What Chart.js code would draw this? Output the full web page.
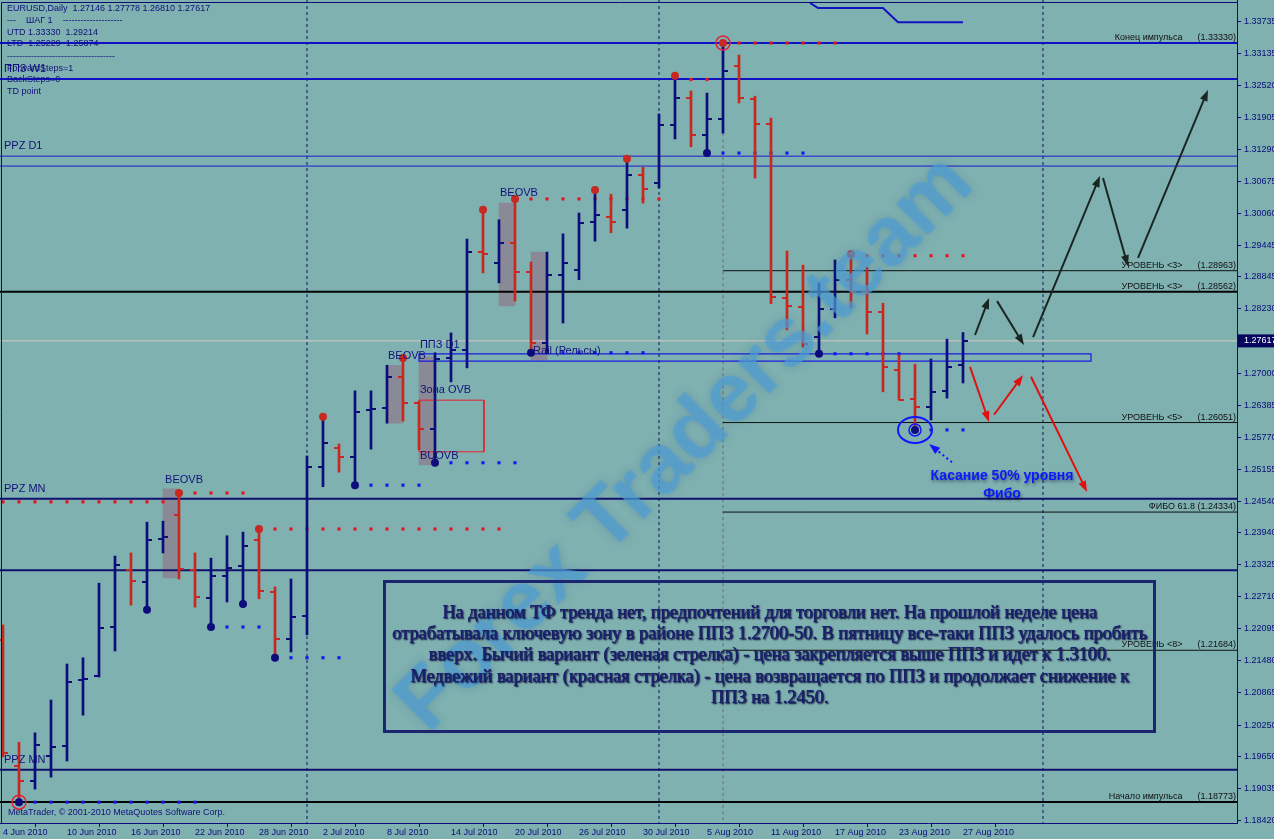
<!DOCTYPE html>
<html>
<head>
<meta charset="utf-8" />
<title>EURUSD, Daily</title>
<script src="https://cdn.jsdelivr.net/npm/chart.js"></script>
<style>
  html, body { margin: 0; padding: 0; background: #7fb1b1; }
  #wrap { width: 1274px; height: 839px; }
</style>
</head>
<body>
<div id="wrap"><canvas id="myChart" width="1274" height="839"></canvas></div>
<script>
// daily bars, 4 Jun 2010 .. 27 Aug 2010 (index 0..60)
const opens  = [1.2188,1.1946,1.1918,1.1966,1.1985,1.2111,1.2119,1.2213,1.2322,1.2299,
                1.2382,1.2428,1.2322,1.2269,1.2311,1.2330,1.2380,1.2280,1.2190,1.2234,
                1.2520,1.2556,1.2539,1.2629,1.2633,1.2693,1.2643,1.2593,1.2729,1.2744,
                1.2932,1.2911,1.2950,1.2894,1.2758,1.2888,1.2898,1.2990,1.2999,1.3013,
                1.3080,1.3065,1.3176,1.3228,1.3157,1.3187,1.3289,1.3226,1.3178,1.2844,
                1.2827,1.2769,1.2823,1.2879,1.2856,1.2817,1.2706,1.2650,1.2635,1.2666,1.27146];
const highs  = [1.2217,1.1992,1.2010,1.2073,1.2142,1.2154,1.2297,1.2349,1.2355,1.2414,
                1.2416,1.2470,1.2355,1.2345,1.2388,1.2395,1.2401,1.2290,1.2305,1.2541,
                1.2616,1.2564,1.2666,1.2666,1.2715,1.2729,1.2646,1.2739,1.2777,1.2957,
                1.3013,1.2994,1.3034,1.2913,1.2932,1.2967,1.3007,1.3051,1.3043,1.3111,
                1.3095,1.3197,1.3270,1.3241,1.3237,1.3333,1.3310,1.3231,1.3189,1.2934,
                1.2907,1.2873,1.2917,1.2928,1.2903,1.2834,1.2735,1.2717,1.2727,1.2765,1.27778];
const lows   = [1.1964,1.1877,1.1902,1.1925,1.1956,1.2044,1.2117,1.2167,1.2255,1.2246,
                1.2355,1.2305,1.2251,1.2213,1.2261,1.2257,1.2267,1.2154,1.2165,1.2198,
                1.2482,1.2510,1.2485,1.2554,1.2604,1.2608,1.2553,1.2528,1.2683,1.2710,
                1.2892,1.2873,1.2838,1.2739,1.2739,1.2796,1.2879,1.2953,1.2969,1.2978,
                1.3026,1.3055,1.3149,1.3134,1.3122,1.3160,1.3218,1.3074,1.2833,1.2783,
                1.2750,1.2737,1.2806,1.2825,1.2775,1.2664,1.2648,1.2591,1.2610,1.2652,1.26810];
const closes = [1.1971,1.1918,1.1987,1.1983,1.2108,1.2113,1.2211,1.2332,1.2301,1.2380,
                1.2386,1.2324,1.2271,1.2311,1.2326,1.2368,1.2282,1.2190,1.2232,1.2520,
                1.2566,1.2539,1.2625,1.2631,1.2693,1.2643,1.2593,1.2727,1.2744,1.2932,
                1.2928,1.2950,1.2894,1.2758,1.2888,1.2911,1.2988,1.3003,1.2990,1.3080,
                1.3053,1.3176,1.3228,1.3157,1.3187,1.3279,1.3228,1.3178,1.2846,1.2829,
                1.2756,1.2823,1.2879,1.2856,1.2817,1.2712,1.2648,1.2635,1.2664,1.2712,1.27617];

const dateIdx = [0,4,8,12,16,20,24,28,32,36,40,44,48,52,56,60];
const dateLabels = ['4 Jun 2010','10 Jun 2010','16 Jun 2010','22 Jun 2010','28 Jun 2010','2 Jul 2010',
                    '8 Jul 2010','14 Jul 2010','20 Jul 2010','26 Jul 2010','30 Jul 2010','5 Aug 2010',
                    '11 Aug 2010','17 Aug 2010','23 Aug 2010','27 Aug 2010'];
const priceTicks = [1.33735,1.33135,1.32520,1.31905,1.31290,1.30675,1.30060,1.29445,1.28845,1.28230,
                    1.27000,1.26385,1.25770,1.25155,1.24540,1.23940,1.23325,1.22710,1.22095,1.21480,
                    1.20865,1.20250,1.19650,1.19035,1.18420];
const lastPrice = 1.27617;

// fractals
const upFractals = [11,16,20,25,30,32,37,39,42,45,53];
const downFractals = [1,9,13,15,17,22,27,33,44,51,57];
const ringIdx = [45];
// dotted fractal levels
const resLevel = [1.2453,1.2470,1.2401,1.3034,1.3263,1.3333,1.2925];
const resFrom  = [0,12,17,33,43,46,54];
const resTo    = [10,15,31,41,44,52,60];
const supLevel = [1.1877,1.2213,1.2154,1.2485,1.2528,1.2739,1.3122,1.2737,1.2591];
const supFrom  = [2,14,18,23,28,34,45,52,58];
const supTo    = [12,16,21,26,32,40,50,56,60];

// horizontal levels
const blueLevels = [1.3333,1.3264];
const blueThinLevels = [1.3116,1.3097];
const ppzLevels = [1.2459,1.2322,1.1939];
const blackLevels = [1.28562,1.18773];
const fiboLevels = [1.28963,1.26051,1.24334,1.21684];
const fiboStart = 45;
const levelNames = ['Конец импульса','УРОВЕНЬ <3>','УРОВЕНЬ <3>','УРОВЕНЬ <5>','ФИБО 61.8','УРОВЕНЬ <8>','Начало импульса'];
const levelValues = [1.33330,1.28963,1.28562,1.26051,1.24334,1.21684,1.18773];
const separators = [19,41,65];

// OVB boxes
const boxStart = [10,24,26,31,33];
const boxHigh = [1.2478,1.2715,1.2731,1.3026,1.2932];
const boxLow  = [1.2307,1.2604,1.2524,1.2829,1.2725];
// zones
const ovbZone = {x0: 26, x1: 30.06, hi: 1.2648, lo: 1.2549};
const railZone = {x0: 26, x1: 68, hi: 1.2737, lo: 1.2723};
// step indicator at the top
const stepX = [50.44,50.94,55,55.94,60];
const stepY = [1.3410,1.3400,1.3400,1.3373,1.3373];

// arrows (bar index, price)
const arrX0 = [64.38,68.75,70.94,60.75,62.13,60.44,61.94,64.25];
const arrY0 = [1.2769,1.3074,1.2921,1.2773,1.2838,1.2712,1.2620,1.2693];
const arrX1 = [68.56,70.31,75.31,61.63,63.81,61.63,63.75,67.75];
const arrY1 = [1.3078,1.2905,1.3243,1.2844,1.2754,1.2606,1.2696,1.2472];
const arrColor = ['#1b2622','#1b2622','#1b2622','#1b2622','#1b2622','#e01010','#e01010','#e01010'];

const chartTexts = ['BEOVB','BEOVB','ППЗ D1','Зона OVB','BUOVB','BEOVB','Rail (Рельсы)','PPZ D1','PPZ MN','PPZ MN'];
const chartTextX = [10.13,24.06,26.06,26.06,26.06,31.06,33.13,0.06,0.06,0.06];
const chartTextY = [1.2495,1.2733,1.2754,1.2668,1.2541,1.3045,1.2742,1.3136,1.2478,1.1958];

const noteLines = [
  'На данном ТФ тренда нет, предпочтений для торговли нет. На прошлой неделе цена',
  'отрабатывала ключевую зону в районе ППЗ 1.2700-50. В пятницу все-таки ППЗ удалось пробить',
  'вверх. Бычий вариант (зеленая стрелка) - цена закрепляется выше ППЗ и идет к 1.3100.',
  'Медвежий вариант (красная стрелка) - цена возвращается по ППЗ и продолжает снижение к',
  'ППЗ на 1.2450.'
];
const infoLines = ['EURUSD,Daily  1.27146 1.27778 1.26810 1.27617', '---    ШАГ 1    --------------------',
  'UTD 1.33330  1.29214', 'LTD  1.25229  1.25874', '------------------------------------',
  'ForwardSteps=1', 'BackSteps=0', 'TD point'];

const xMin = -0.1875, xMax = 77.125;
const yMax = 1.34155, yMin = 1.18371;

const NAVY = '#0c0c7a';
const RED = '#c8281f';
const BG = '#7fb1b1';

function mkTick(left, color) {
  const c = document.createElement('canvas');
  c.width = 10; c.height = 2;
  const g = c.getContext('2d');
  g.fillStyle = color;
  g.fillRect(left ? 0 : 5, 0, 5, 2);
  return c;
}
const tickImg = {
  openUp: mkTick(true, NAVY), openDn: mkTick(true, RED),
  closeUp: mkTick(false, NAVY), closeDn: mkTick(false, RED)
};
const isUp = i => closes[i] >= opens[i];

function hlines(levels, x0, x1) {
  const out = [];
  levels.forEach(v => { out.push({x: x0, y: v}, {x: x1, y: v}, {x: x1, y: null}); });
  return out;
}
function dotted(levels, from, to) {
  const out = [];
  levels.forEach((v, k) => { for (let i = from[k]; i <= to[k]; i++) out.push({x: i, y: v}); });
  return out;
}
function rect(z) {
  return [{x: z.x0, y: z.hi}, {x: z.x1, y: z.hi}, {x: z.x1, y: z.lo}, {x: z.x0, y: z.lo}, {x: z.x0, y: z.hi}];
}

const datasets = [
  { type: 'scatter', order: 0, data: upFractals.map(i => ({x: i, y: highs[i]})),
    pointRadius: 4, pointBackgroundColor: RED, pointBorderWidth: 0 },
  { type: 'scatter', order: 0, data: downFractals.map(i => ({x: i, y: lows[i]})),
    pointRadius: 4, pointBackgroundColor: NAVY, pointBorderWidth: 0 },
  { type: 'scatter', order: 0, data: ringIdx.map(i => ({x: i, y: highs[i]})).concat([{x: 1, y: lows[1]}]),
    pointRadius: 7, pointBackgroundColor: 'rgba(0,0,0,0)', pointBorderColor: '#e0203a', pointBorderWidth: 1.5 },
  { type: 'scatter', order: 1, data: opens.map((o, i) => ({x: i, y: o})), pointRadius: 3,
    pointStyle: c => isUp(c.dataIndex) ? tickImg.openUp : tickImg.openDn },
  { type: 'scatter', order: 1, data: closes.map((o, i) => ({x: i, y: o})), pointRadius: 3,
    pointStyle: c => isUp(c.dataIndex) ? tickImg.closeUp : tickImg.closeDn },
  { type: 'bar', order: 2, data: highs.map((h, i) => ({x: i, y: [lows[i], h]})),
    backgroundColor: c => isUp(c.dataIndex) ? NAVY : RED, barThickness: 2, grouped: false, borderWidth: 0 },
  { type: 'scatter', order: 3, data: dotted(resLevel, resFrom, resTo),
    pointStyle: 'rect', pointRadius: 2.2, pointBackgroundColor: '#e8141a', pointBorderWidth: 0 },
  { type: 'scatter', order: 3, data: dotted(supLevel, supFrom, supTo),
    pointStyle: 'rect', pointRadius: 2.2, pointBackgroundColor: '#1616ee', pointBorderWidth: 0 },
  { type: 'line', order: 4, data: rect(ovbZone), borderColor: '#e8202e', borderWidth: 1, pointRadius: 0 },
  { type: 'line', order: 4, data: rect(railZone), borderColor: '#1a1ae0', borderWidth: 1.2, pointRadius: 0 },
  { type: 'line', order: 4, data: stepX.map((x, k) => ({x: x, y: stepY[k]})), borderColor: '#1212c0', borderWidth: 2, pointRadius: 0 },
  { type: 'line', order: 5, data: hlines(blueLevels, xMin, xMax), borderColor: '#1010c4', borderWidth: 2, pointRadius: 0, spanGaps: false },
  { type: 'line', order: 5, data: hlines(blueThinLevels, xMin, xMax), borderColor: '#1a1ad0', borderWidth: 1, pointRadius: 0, spanGaps: false },
  { type: 'line', order: 5, data: hlines(ppzLevels, xMin, xMax), borderColor: '#10106e', borderWidth: 2, pointRadius: 0, spanGaps: false },
  { type: 'line', order: 5, data: hlines(blackLevels, xMin, xMax), borderColor: '#050505', borderWidth: 2, pointRadius: 0, spanGaps: false },
  { type: 'line', order: 5, data: hlines(fiboLevels, fiboStart, xMax), borderColor: '#101010', borderWidth: 1, pointRadius: 0, spanGaps: false },
  { type: 'line', order: 5, data: hlines([lastPrice], xMin, xMax), borderColor: '#d6cbc4', borderWidth: 1, pointRadius: 0 },
  { type: 'line', order: 6, data: separators.flatMap(s => [{x: s, y: yMax}, {x: s, y: yMin}, {x: s, y: null}]),
    borderColor: '#10105a', borderWidth: 1, borderDash: [3, 3], pointRadius: 0, spanGaps: false },
  { type: 'line', order: 6, data: [{x: fiboStart, y: lows[fiboStart]}, {x: fiboStart, y: yMin}],
    borderColor: '#6a6a70', borderWidth: 1, borderDash: [3, 3], pointRadius: 0 },
  { type: 'bar', order: 7, data: boxStart.map((b, k) => ({x: b + 0.5, y: [boxLow[k], boxHigh[k]]})),
    backgroundColor: '#8a8a96', barThickness: 16, grouped: false, borderWidth: 0 }
];

function drawArrow(ctx, x0, y0, x1, y1, color, width, dash) {
  const a = Math.atan2(y1 - y0, x1 - x0);
  ctx.save();
  ctx.strokeStyle = color; ctx.fillStyle = color; ctx.lineWidth = width;
  if (dash) ctx.setLineDash(dash);
  ctx.beginPath(); ctx.moveTo(x0, y0);
  ctx.lineTo(x1 - 7 * Math.cos(a), y1 - 7 * Math.sin(a)); ctx.stroke();
  ctx.setLineDash([]);
  ctx.beginPath(); ctx.moveTo(x1, y1);
  ctx.lineTo(x1 - 11 * Math.cos(a) + 4 * Math.sin(a), y1 - 11 * Math.sin(a) - 4 * Math.cos(a));
  ctx.lineTo(x1 - 11 * Math.cos(a) - 4 * Math.sin(a), y1 - 11 * Math.sin(a) + 4 * Math.cos(a));
  ctx.closePath(); ctx.fill();
  ctx.restore();
}

const background = {
  id: 'background',
  beforeDraw(chart) {
    const ctx = chart.ctx;
    ctx.save(); ctx.fillStyle = BG; ctx.fillRect(0, 0, chart.width, chart.height); ctx.restore();
  }
};

const overlay = {
  id: 'overlay',
  afterDatasetsDraw(chart) {
    const ctx = chart.ctx, xs = chart.scales.x, ys = chart.scales.y, area = chart.chartArea;
    const X = v => xs.getPixelForValue(v), Y = v => ys.getPixelForValue(v);
    ctx.save();

    // frame
    ctx.strokeStyle = '#0c0c70'; ctx.lineWidth = 1;
    ctx.beginPath(); ctx.moveTo(1.5, area.bottom); ctx.lineTo(1.5, 2.5); ctx.lineTo(area.right, 2.5); ctx.stroke();

    // chart object labels
    ctx.fillStyle = '#12127a'; ctx.font = '11px "Liberation Sans"'; ctx.textBaseline = 'middle'; ctx.textAlign = 'left';
    chartTexts.forEach((t, k) => ctx.fillText(t, X(chartTextX[k]), Y(chartTextY[k])));

    // level labels on the right
    ctx.fillStyle = '#111'; ctx.font = '9px "Liberation Sans"'; ctx.textAlign = 'right'; ctx.textBaseline = 'bottom';
    levelNames.forEach((n, k) => {
      const gap = n.indexOf('ФИБО') === 0 ? ' ' : '      ';
      ctx.fillText(n + gap + '(' + levelValues[k].toFixed(5) + ')', area.right - 1, Y(levelValues[k]) - 1);
    });

    // arrows
    arrX0.forEach((x, k) => drawArrow(ctx, X(x), Y(arrY0[k]), X(arrX1[k]), Y(arrY1[k]), arrColor[k], 2));

    // touch of the 50% level
    const cx = X(57), cy = Y(lows[57]);
    ctx.strokeStyle = '#1414ff'; ctx.lineWidth = 2;
    ctx.beginPath(); ctx.ellipse(cx, cy, 17, 13, 0, 0, Math.PI * 2); ctx.stroke();
    ctx.lineWidth = 1.5;
    ctx.beginPath(); ctx.arc(cx, cy, 6, 0, Math.PI * 2); ctx.stroke();
    drawArrow(ctx, X(59.31), Y(1.2529), X(57.88), Y(1.2564), '#1414ff', 2, [2, 3]);
    ctx.save();
    ctx.shadowColor = 'rgba(20,30,60,0.55)'; ctx.shadowBlur = 3; ctx.shadowOffsetX = 1; ctx.shadowOffsetY = 2;
    ctx.fillStyle = '#0c18ff'; ctx.font = 'bold 14px "Liberation Sans"'; ctx.textAlign = 'center'; ctx.textBaseline = 'middle';
    ctx.fillText('Касание 50% уровня', X(62.44), Y(1.2503));
    ctx.fillText('Фибо', X(62.44), Y(1.2468));
    ctx.restore();

    // watermark
    ctx.save();
    ctx.translate(686, 444); ctx.rotate(-Math.PI / 4);
    ctx.font = 'bold 84px "Liberation Sans"'; ctx.textAlign = 'center'; ctx.textBaseline = 'middle';
    ctx.shadowColor = 'rgba(30,80,130,0.35)'; ctx.shadowBlur = 8;
    ctx.fillStyle = 'rgba(78,158,214,0.68)';
    ctx.fillText('Forex Traders.team', 0, 0);
    ctx.restore();

    // info header
    ctx.fillStyle = '#10107a'; ctx.font = '9px "Liberation Sans"'; ctx.textAlign = 'left'; ctx.textBaseline = 'middle';
    const infoY = [9, 21, 33, 44, 57, 69, 80, 92];
    infoLines.forEach((t, k) => ctx.fillText(t, 7, infoY[k]));
    ctx.font = '11px "Liberation Sans"';
    ctx.fillText('ППЗ W1', 4, 69);
    ctx.font = '9px "Liberation Sans"';
    ctx.fillText('MetaTrader, © 2001-2010 MetaQuotes Software Corp.', 8, 813);

    // comment box
    ctx.strokeStyle = '#1c2670'; ctx.lineWidth = 3;
    ctx.strokeRect(384.5, 581.5, 770, 150);
    ctx.save();
    ctx.shadowColor = 'rgba(10,10,50,0.7)'; ctx.shadowBlur = 1.5; ctx.shadowOffsetX = 1; ctx.shadowOffsetY = 1;
    ctx.fillStyle = '#1a2170'; ctx.font = '18.3px "Liberation Serif"'; ctx.textAlign = 'center'; ctx.textBaseline = 'middle';
    noteLines.forEach((t, k) => { ctx.fillText(t, 769.5, 613 + k * 21.3); ctx.fillText(t, 770, 613 + k * 21.3); });
    ctx.restore();

    // current price marker on the axis
    const py = Y(lastPrice);
    ctx.fillStyle = '#06065e'; ctx.fillRect(area.right + 1, py - 6.5, 36, 13);
    ctx.fillStyle = '#ffffff'; ctx.font = '9px "Liberation Sans"'; ctx.textAlign = 'left';
    ctx.fillText(lastPrice.toFixed(5), area.right + 7, py);
    ctx.restore();
  }
};

new Chart(document.getElementById('myChart'), {
  type: 'bar',
  data: { datasets: datasets },
  options: {
    responsive: false,
    animation: false,
    events: [],
    layout: { padding: 0, autoPadding: false },
    plugins: { legend: { display: false }, tooltip: { enabled: false } },
    scales: {
      x: {
        type: 'linear', position: 'bottom', min: xMin, max: xMax, offset: false,
        grid: { drawOnChartArea: false, tickLength: 4, color: NAVY },
        border: { color: NAVY },
        ticks: { autoSkip: false, maxRotation: 0, padding: 0, align: 'start', color: NAVY,
                 font: { family: 'Liberation Sans', size: 9 },
                 callback: (v, i) => dateLabels[i] },
        afterBuildTicks: s => { s.ticks = dateIdx.map(v => ({ value: v })); },
        afterFit: s => { s.height = 16; s.paddingLeft = 0; s.paddingRight = 0; }
      },
      y: {
        type: 'linear', position: 'right', min: yMin, max: yMax, beginAtZero: false,
        grid: { drawOnChartArea: false, tickLength: 4, color: NAVY },
        border: { color: NAVY },
        ticks: { autoSkip: false, padding: 3, color: NAVY,
                 font: { family: 'Liberation Sans', size: 9 },
                 callback: v => v.toFixed(5) },
        afterBuildTicks: s => { s.ticks = priceTicks.map(v => ({ value: v })); },
        afterFit: s => { s.width = 37; s.paddingTop = 0; s.paddingBottom = 0; }
      }
    }
  },
  plugins: [background, overlay]
});
</script>
</body>
</html>
